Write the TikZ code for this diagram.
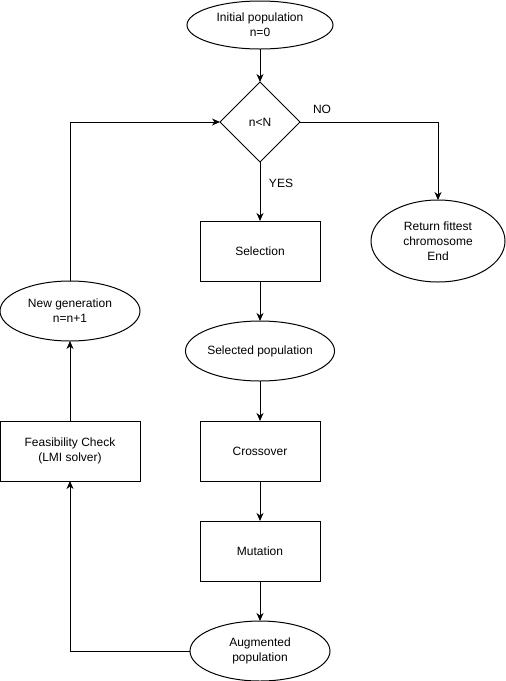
\documentclass[tikz,border=0pt]{standalone}
\usepackage{fontspec}
\setmainfont{Liberation Sans}
\usetikzlibrary{positioning,shapes.geometric,arrows.meta}

\begin{document}
\begin{tikzpicture}[x=1pt, y=1pt,
        font=\fontsize{12}{15}\selectfont,
        every path/.style={line width=1pt},
        ovalnode/.style={ellipse, draw=black, minimum width=140pt, minimum height=60pt, inner sep=0pt, outer sep=0pt, align=center},
        boxnode/.style={rectangle, draw=black, minimum width=120pt, minimum height=60pt, inner sep=0pt, outer sep=0pt, align=center},
        testnode/.style={diamond, draw=black, minimum width=80pt, minimum height=80pt, inner sep=0pt, outer sep=0pt},
        flow/.style={-{Stealth[length=8pt, width=7pt, inset=2.5pt]}}]
        \useasboundingbox (0,0) rectangle (506,-681);
        \node[ovalnode, minimum width=146pt, minimum height=48pt] (init) at (260,-25) {Initial population\\n=0};
        \node[testnode] (test) [below=33pt of init] {n<N};
        \node[boxnode] (select) [below=59pt of test] {Selection};
        \node[ovalnode] (selpop) [below=40pt of select] {Selected population};
        \node[boxnode] (cross) [below=40pt of selpop] {Crossover};
        \node[boxnode] (mutate) [below=40pt of cross] {Mutation};
        \node[ovalnode] (augpop) [below=40pt of mutate] {Augmented\\population};
        \node[boxnode, minimum width=140pt] (feas) [left=60pt of cross] {Feasibility Check\\(LMI solver)};
        \node[ovalnode] (newgen) [above=80pt of feas] {New generation\\n=n+1};
        \node[ovalnode, minimum width=134pt, minimum height=82pt] (ret) at (438,-241) {Return fittest\\chromosome\\End};
        \node (nolbl) at ([xshift=22pt, yshift=13pt]test.east) {NO};
        \node (yeslbl) at ([xshift=21pt, yshift=-21pt]test.south) {YES};
        \draw[flow] (init.south) -- (test.north);
        \draw[flow] (test.south) -- (select.north);
        \draw[flow] (select.south) -- (selpop.north);
        \draw[flow] (selpop.south) -- (cross.north);
        \draw[flow] (cross.south) -- (mutate.north);
        \draw[flow] (mutate.south) -- (augpop.north);
        \draw[flow] (test.east) -| (ret.north);
        \draw[flow] (augpop.west) -| (feas.south);
        \draw[flow] (feas.north) -- (newgen.south);
        \draw[flow] (newgen.north) |- (test.west);
\end{tikzpicture}
\end{document}
